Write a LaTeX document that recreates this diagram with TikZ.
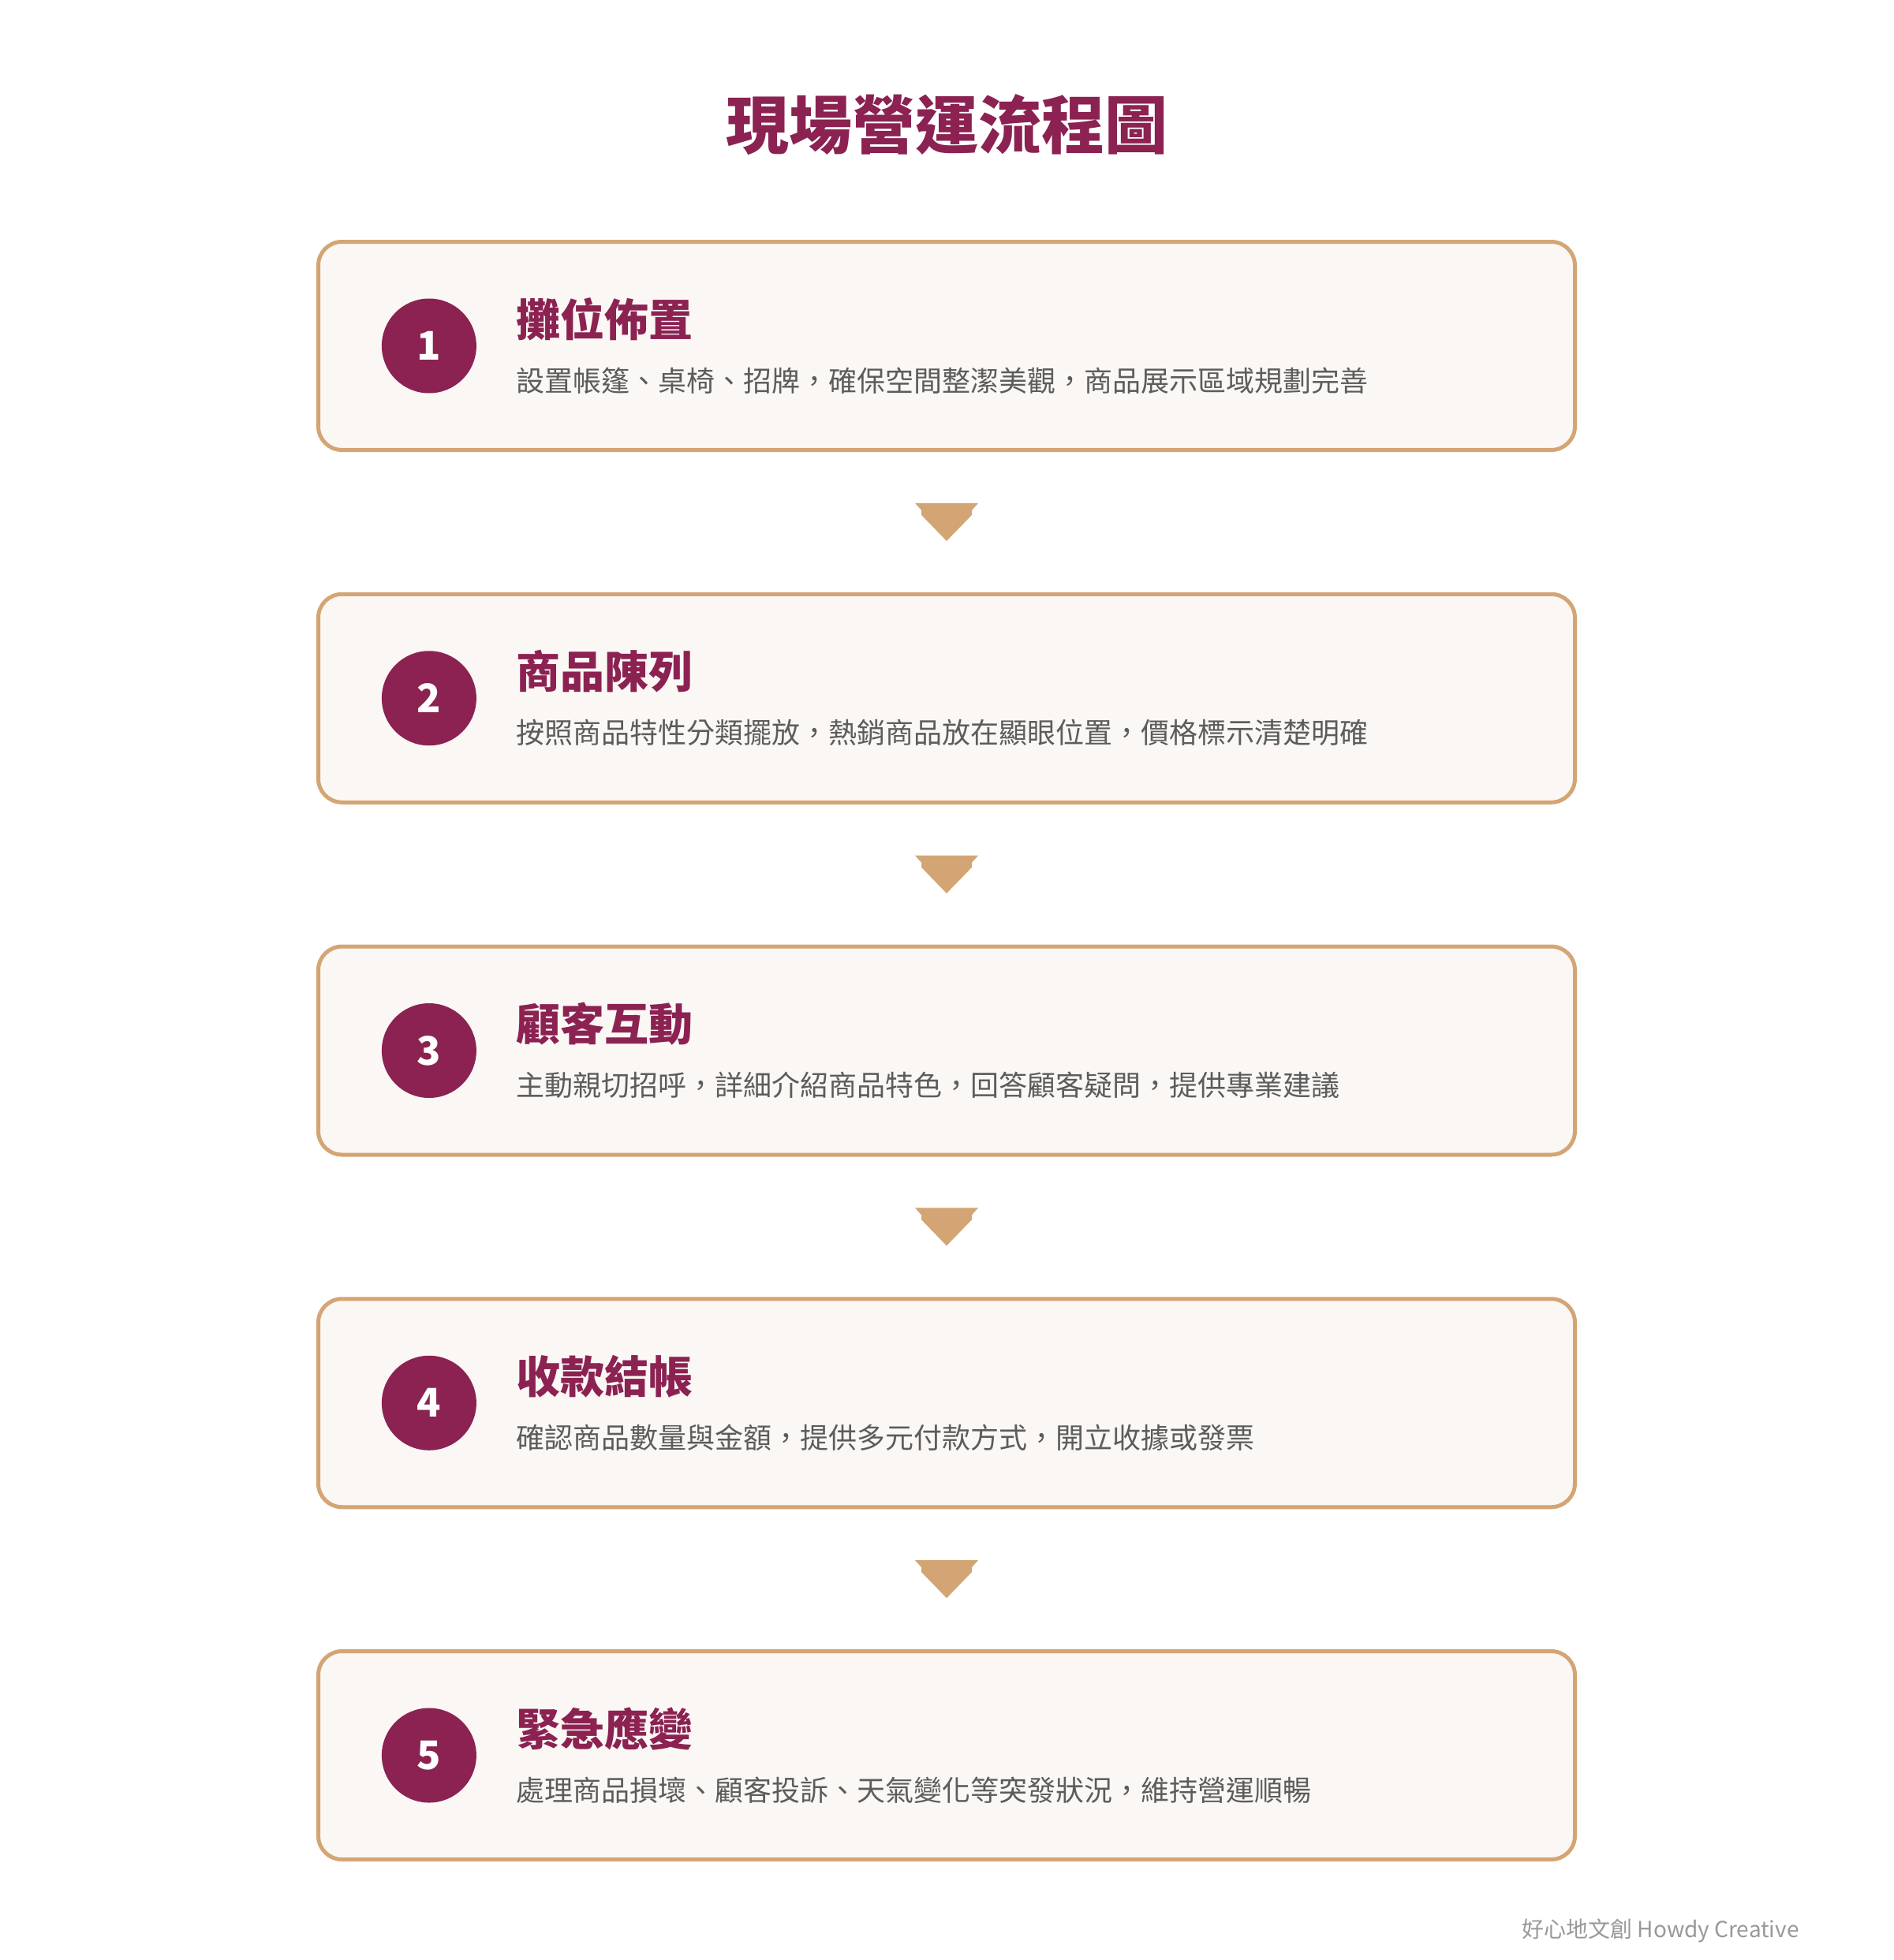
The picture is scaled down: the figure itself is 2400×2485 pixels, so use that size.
\documentclass[tikz,border=0pt]{standalone}
\usepackage{fontspec}
\setmainfont{Noto Sans CJK TC}
\newfontfamily\titlefont{Noto Sans CJK TC Black}
\usetikzlibrary{positioning,calc}

\definecolor{wine}{HTML}{8B2252}
\definecolor{sand}{HTML}{D4A574}
\definecolor{paper}{HTML}{FAF7F4}
\definecolor{ink}{HTML}{5C5C5C}
\definecolor{note}{HTML}{999999}

\tikzset{
  stepbox/.style={draw=sand, line width=2.5pt, fill=paper, rounded corners=15pt,
    minimum width=796.5pt, minimum height=132pt, inner sep=0pt},
  numdot/.style={circle, fill=wine, minimum size=60pt, inner sep=0pt, text=white,
    font=\bfseries\fontsize{25}{25}\selectfont},
  steptitle/.style={anchor=west, inner sep=0pt, text=wine,
    font=\bfseries\fontsize{28}{28}\selectfont},
  steptext/.style={anchor=west, inner sep=0pt, text=ink,
    font=\fontsize{18}{18}\selectfont},
}

\begin{document}
\begin{tikzpicture}[x=0.5pt, y=-0.5pt]
            \path[use as bounding box, fill=white] (0,0) rectangle (2400,2485);

            % Title
            \node[text=wine, font=\titlefont\fontsize{40}{40}\selectfont] (title) at (1200,158) {現場營運流程圖};

            % Step 1
            \node[stepbox] (b1) at (1200,438.5) {};
            \node[numdot, right=41.25pt of b1.west] (n1) {1};
            \node[steptitle] (h1) at ($(n1.east)+(50,-34)$) {攤位佈置};
            \node[steptext] (d1) at ($(n1.east)+(50,44)$) {設置帳篷、桌椅、招牌，確保空間整潔美觀，商品展示區域規劃完善};

            % Step 2
            \node[stepbox] (b2) at (1200,885.25) {};
            \node[numdot, right=41.25pt of b2.west] (n2) {2};
            \node[steptitle] (h2) at ($(n2.east)+(50,-34)$) {商品陳列};
            \node[steptext] (d2) at ($(n2.east)+(50,44)$) {按照商品特性分類擺放，熱銷商品放在顯眼位置，價格標示清楚明確};

            % Step 3
            \node[stepbox] (b3) at (1200,1332) {};
            \node[numdot, right=41.25pt of b3.west] (n3) {3};
            \node[steptitle] (h3) at ($(n3.east)+(50,-34)$) {顧客互動};
            \node[steptext] (d3) at ($(n3.east)+(50,44)$) {主動親切招呼，詳細介紹商品特色，回答顧客疑問，提供專業建議};

            % Step 4
            \node[stepbox] (b4) at (1200,1778.75) {};
            \node[numdot, right=41.25pt of b4.west] (n4) {4};
            \node[steptitle] (h4) at ($(n4.east)+(50,-34)$) {收款結帳};
            \node[steptext] (d4) at ($(n4.east)+(50,44)$) {確認商品數量與金額，提供多元付款方式，開立收據或發票};

            % Step 5
            \node[stepbox] (b5) at (1200,2225.5) {};
            \node[numdot, right=41.25pt of b5.west] (n5) {5};
            \node[steptitle] (h5) at ($(n5.east)+(50,-34)$) {緊急應變};
            \node[steptext] (d5) at ($(n5.east)+(50,44)$) {處理商品損壞、顧客投訴、天氣變化等突發狀況，維持營運順暢};

            % Arrows between steps
            \fill[sand] ($(b1.south)!0.5!(b2.north)$) ++(-40,-24) -- ++(80,0) -- ++(-8,9) -- ++(0,6) -- ++(-32,33) -- ++(-32,-33) -- ++(0,-6) -- cycle;
            \fill[sand] ($(b2.south)!0.5!(b3.north)$) ++(-40,-24) -- ++(80,0) -- ++(-8,9) -- ++(0,6) -- ++(-32,33) -- ++(-32,-33) -- ++(0,-6) -- cycle;
            \fill[sand] ($(b3.south)!0.5!(b4.north)$) ++(-40,-24) -- ++(80,0) -- ++(-8,9) -- ++(0,6) -- ++(-32,33) -- ++(-32,-33) -- ++(0,-6) -- cycle;
            \fill[sand] ($(b4.south)!0.5!(b5.north)$) ++(-40,-24) -- ++(80,0) -- ++(-8,9) -- ++(0,6) -- ++(-32,33) -- ++(-32,-33) -- ++(0,-6) -- cycle;

            % Credit
            \node[anchor=east, inner sep=0pt, text=note, font=\fontsize{14}{14}\selectfont] (credit) at (2281,2448) {好心地文創 Howdy Creative};

        \end{tikzpicture}
\end{document}
